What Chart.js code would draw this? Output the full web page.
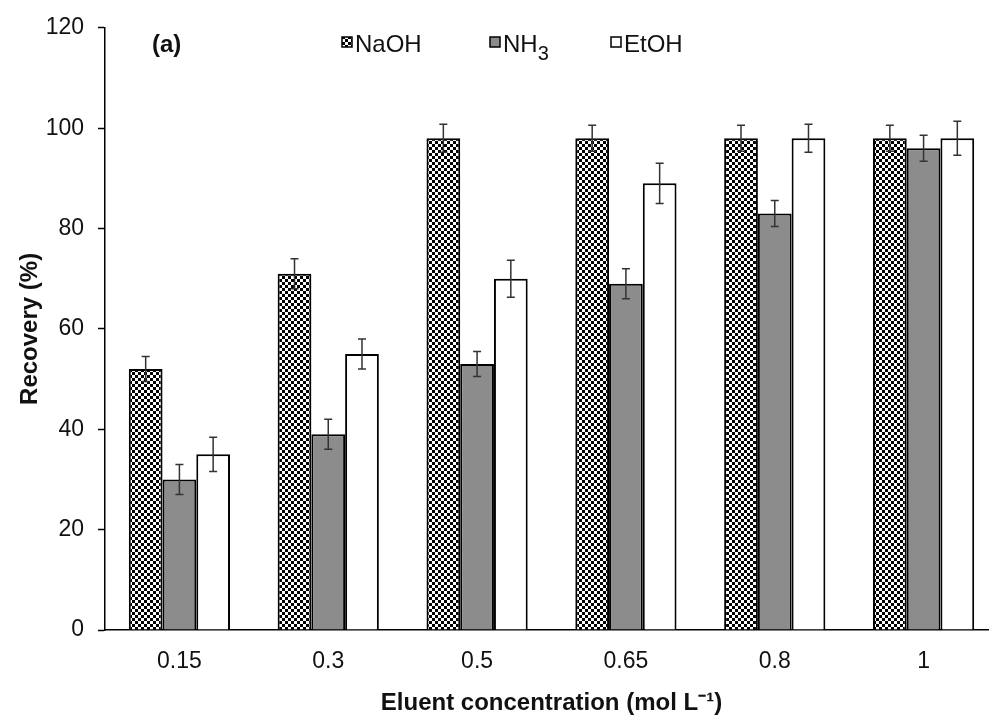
<!DOCTYPE html>
<html>
<head>
<meta charset="utf-8">
<title>Recovery vs eluent concentration</title>
<script src="https://cdn.jsdelivr.net/npm/chart.js@4/dist/chart.umd.min.js"></script>
<style>
  html, body { margin: 0; padding: 0; background: #fff; overflow: hidden; }
  #wrap { width: 1000px; height: 721px; }
</style>
</head>
<body>
<div id="wrap"><canvas id="chart-recovery" width="1000" height="721"></canvas></div>
<script>
// values
var categories = ['0.15', '0.3', '0.5', '0.65', '0.8', '1'];
var naohValues = [52, 71, 98, 98, 98, 98];
var nh3Values  = [30, 39, 53, 69, 83, 96];
var etohValues = [35, 55, 70, 89, 98, 98];
var naohErr = [2.5, 3, 2.8, 2.6, 2.6, 2.6];
var nh3Err  = [3, 3, 2.5, 3, 2.6, 2.6];
var etohErr = [3.4, 3, 3.7, 4, 2.8, 3.4];
var seriesLabels = ['NaOH', 'NH\u2083', 'EtOH'];

var FONT = '"Liberation Sans", Arial, sans-serif';

function checkerPattern() {
  var c = document.createElement('canvas');
  c.width = 6; c.height = 6;
  var g = c.getContext('2d');
  g.fillStyle = '#fff';
  g.fillRect(0, 0, 6, 6);
  g.fillStyle = '#000';
  g.fillRect(0, 0, 3, 3);
  g.fillRect(3, 3, 3, 3);
  return g.createPattern(c, 'repeat');
}

// error bars drawn through the y scale
var errorBars = {
  id: 'errorBars',
  afterDatasetsDraw(chart) {
    var ctx = chart.ctx;
    var yScale = chart.scales.y;
    ctx.save();
    ctx.strokeStyle = '#333';
    ctx.lineWidth = 1.5;
    chart.data.datasets.forEach(function (ds, i) {
      var meta = chart.getDatasetMeta(i);
      meta.data.forEach(function (bar, j) {
        var v = ds.data[j], e = ds.errors[j];
        var yTop = yScale.getPixelForValue(v + e);
        var yBot = yScale.getPixelForValue(v - e);
        ctx.beginPath();
        ctx.moveTo(bar.x, yTop); ctx.lineTo(bar.x, yBot);
        ctx.moveTo(bar.x - 4, yTop); ctx.lineTo(bar.x + 4, yTop);
        ctx.moveTo(bar.x - 4, yBot); ctx.lineTo(bar.x + 4, yBot);
        ctx.stroke();
      });
    });
    ctx.restore();
  }
};

// legend and panel tag sit inside the plot area
var insideLegend = {
  id: 'insideLegend',
  afterDraw(chart, args, opts) {
    var ctx = chart.ctx;
    ctx.save();
    ctx.fillStyle = '#111';
    ctx.textBaseline = 'alphabetic';
    ctx.font = 'bold 24px ' + FONT;
    ctx.fillText('(a)', opts.tagX, opts.baseY);
    chart.data.datasets.forEach(function (ds, i) {
      var x = opts.itemX[i];
      ctx.fillStyle = ds.backgroundColor;
      ctx.fillRect(x, opts.baseY - 15, 10, 10);
      ctx.strokeStyle = '#000';
      ctx.lineWidth = 1.5;
      ctx.strokeRect(x, opts.baseY - 15, 10, 10);
      ctx.fillStyle = '#111';
      var label = ds.label;
      var tx = x + 13;
      var sub = label.indexOf('\u2083');
      if (sub >= 0) {
        ctx.font = '24px ' + FONT;
        var main = label.slice(0, sub);
        ctx.fillText(main, tx, opts.baseY);
        tx += ctx.measureText(main).width;
        ctx.font = '20px ' + FONT;
        ctx.fillText('3', tx, opts.baseY + 8);
      } else {
        ctx.font = '24px ' + FONT;
        ctx.fillText(label, tx, opts.baseY);
      }
    });
    ctx.restore();
  }
};

function initChart() {
  var ctx = document.getElementById('chart-recovery').getContext('2d');
  new Chart(ctx, {
    type: 'bar',
    data: {
      labels: categories,
      datasets: [{
        label: seriesLabels[0],
        data: naohValues,
        errors: naohErr,
        backgroundColor: checkerPattern(),
        borderColor: '#000',
        borderWidth: 2
      },
      {
        label: seriesLabels[1],
        data: nh3Values,
        errors: nh3Err,
        backgroundColor: '#8c8c8c',
        borderColor: '#000',
        borderWidth: 2
      },
      {
        label: seriesLabels[2],
        data: etohValues,
        errors: etohErr,
        backgroundColor: '#ffffff',
        borderColor: '#000',
        borderWidth: 2
      }]
    },
    options: {
      responsive: false,
      animation: false,
      layout: { padding: { top: 26, right: 2, left: 0, bottom: 0 } },
      datasets: { bar: { categoryPercentage: 0.68, barPercentage: 1.0 } },
      plugins: {
        legend: { display: false },
        tooltip: { enabled: false },
        insideLegend: { tagX: 152, baseY: 52, itemX: [342, 490, 611] }
      },
      scales: {
        x: {
          grid: { display: false, drawTicks: false },
          border: { color: '#000', width: 1.5 },
          ticks: { color: '#111', font: { family: FONT, size: 23 }, padding: 18 },
          title: {
            display: true,
            text: 'Eluent concentration (mol L\u207B\u00B9)',
            color: '#111',
            font: { family: FONT, size: 24, weight: 'bold' },
            padding: { top: 0, bottom: 3 }
          },
          afterFit: function (scale) { scale.height = 91; }
        },
        y: {
          min: 0,
          max: 120,
          grid: { drawOnChartArea: false, color: '#000', tickLength: 7, tickWidth: 1.5 },
          border: { color: '#000', width: 1.5 },
          ticks: { stepSize: 20, color: '#111', font: { family: FONT, size: 23 }, padding: 14 },
          title: {
            display: true,
            text: 'Recovery (%)',
            color: '#111',
            font: { family: FONT, size: 24, weight: 'bold' },
            padding: { top: 16, bottom: 0 }
          },
          afterFit: function (scale) { scale.width = 105; }
        }
      }
    },
    plugins: [errorBars, insideLegend]
  });
}

window.addEventListener('load', initChart);
</script>
</body>
</html>
